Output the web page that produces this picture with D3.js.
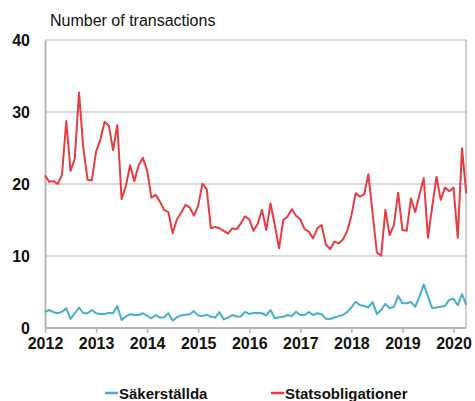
<!DOCTYPE html>
<html><head><meta charset="utf-8">
<script src="https://cdn.jsdelivr.net/npm/d3@7"></script>
<style>body{margin:0;background:#fff}svg{display:block}text{font-family:"Liberation Sans",Arial,sans-serif}</style>
</head><body><svg id="c" width="475" height="401"></svg>
<script>
const startYear = 2012;
const yearLabels = ["2012","2013","2014","2015","2016","2017","2018","2019","2020"];
const yTicks = [0,10,20,30,40];
const seriesNames = ["Säkerställda","Statsobligationer"];
const seriesColors = ["#45b0c8","#e63c42"];
const sakerstallda = [
 2.2,2.5,2.2,2.05,2.25,2.75,1.25,2.05,2.85,2.05,2.05,2.5,
 2.05,1.95,1.95,2.1,2.05,3.05,1.1,1.6,1.9,1.8,1.8,2.05,
 1.7,1.35,1.8,1.45,1.5,2.05,1.0,1.5,1.75,1.85,1.9,2.35,
 1.75,1.65,1.85,1.55,1.45,2.2,1.2,1.45,1.8,1.6,1.6,2.25,
 1.95,2.1,2.1,2.05,1.75,2.5,1.35,1.5,1.55,1.8,1.65,2.25,
 1.8,1.8,2.2,1.8,2.05,1.9,1.3,1.25,1.45,1.65,1.8,2.2,
 2.85,3.65,3.2,3.05,2.85,3.6,1.95,2.5,3.35,2.75,2.95,4.45,
 3.45,3.45,3.6,2.95,4.35,6.05,4.4,2.75,2.85,2.95,3.05,3.9,
 4.05,3.15,4.7,3.2
];
const statsobligationer = [
 21.2,20.3,20.4,20.0,21.3,28.75,21.8,23.5,32.7,25.0,20.6,20.5,
 24.5,26.1,28.65,28.1,24.7,28.2,17.9,19.7,22.6,20.4,22.6,23.65,
 21.9,18.1,18.5,17.55,16.4,16.1,13.15,15.1,16.0,17.1,16.75,15.6,
 17.0,20.05,19.3,13.85,14.05,13.85,13.5,13.1,13.85,13.7,14.5,15.5,
 15.1,13.5,14.5,16.4,13.6,17.3,14.3,11.05,15.0,15.5,16.5,15.6,
 15.1,13.75,13.4,12.45,13.85,14.3,11.6,10.95,12.0,11.75,12.3,13.4,
 15.6,18.7,18.25,18.55,21.35,15.9,10.45,10.05,16.4,12.9,14.3,18.8,
 13.6,13.5,18.0,16.1,18.5,20.8,12.55,16.85,21.0,17.8,19.5,19.0,
 19.5,12.55,24.95,18.7
];

const svg = d3.select("#c");
const L = 45, R = 466, T = 40, B = 328;
const x = d3.scaleLinear().domain([0, 96]).range([L, 453.5]);
const y = d3.scaleLinear().domain([0, 40]).range([B, T]);

// gridlines
svg.append("g").selectAll("line").data(yTicks.filter(d => d > 0)).join("line")
  .attr("x1", L).attr("x2", R).attr("y1", d => y(d)).attr("y2", d => y(d))
  .attr("stroke", "#cccccc").attr("stroke-width", 1.5);

// right border
svg.append("line").attr("x1", R).attr("x2", R).attr("y1", T).attr("y2", B)
  .attr("stroke", "#bdbdbd").attr("stroke-width", 1.5);

// y axis
const yAxis = svg.append("g").attr("transform", `translate(${L},0)`)
  .call(d3.axisLeft(y).tickValues(yTicks).tickSize(0).tickPadding(15).tickFormat(d3.format("d")));
yAxis.select(".domain").attr("stroke", "#b5b5b5").attr("stroke-width", 2);
yAxis.selectAll("text").attr("font-size", 16).attr("font-weight", "bold").attr("fill", "#111")
  .attr("font-family", '"Liberation Sans",Arial,sans-serif');

// x axis
const xTickVals = yearLabels.map((d, i) => i * 12);
const xAxis = svg.append("g").attr("transform", `translate(0,${B})`)
  .call(d3.axisBottom(x).tickValues(xTickVals).tickSize(5).tickSizeOuter(0).tickPadding(5)
    .tickFormat((d, i) => yearLabels[i]));
xAxis.select(".domain").attr("stroke", "#b5b5b5").attr("stroke-width", 2).attr("d", `M${L},0H${R}`);
xAxis.selectAll(".tick line").attr("stroke", "#b5b5b5").attr("stroke-width", 1.5);
xAxis.selectAll("text").attr("font-size", 16).attr("font-weight", "bold").attr("fill", "#111")
  .attr("font-family", '"Liberation Sans",Arial,sans-serif');

// title
svg.append("text").attr("x", 50).attr("y", 26).attr("font-size", 16).attr("fill", "#111")
  .text("Number of transactions");

// lines
const line = d3.line().x((d, i) => x(i)).y(d => y(d));
[sakerstallda, statsobligationer].forEach((s, k) => {
  svg.append("path").datum(s).attr("d", line).attr("fill", "none")
    .attr("stroke", seriesColors[k]).attr("stroke-width", 2).attr("stroke-linejoin", "round");
});

// legend
const legX = [105, 271];
seriesNames.forEach((n, k) => {
  const g = svg.append("g").attr("transform", `translate(${legX[k]},393)`);
  g.append("line").attr("x1", 0).attr("x2", 13).attr("y1", 0).attr("y2", 0)
    .attr("stroke", seriesColors[k]).attr("stroke-width", 2.5);
  g.append("text").attr("x", 14).attr("y", 5.5).attr("font-size", 15).attr("font-weight", "bold")
    .attr("fill", "#111").text(n);
});
</script></body></html>
